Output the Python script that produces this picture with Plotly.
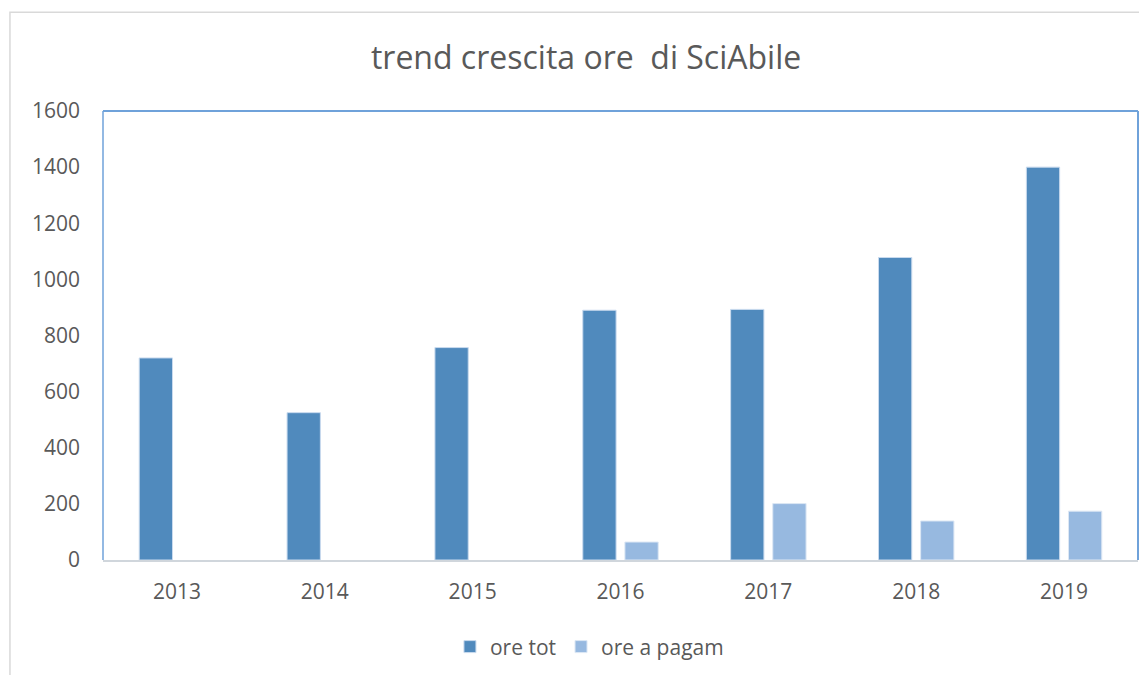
import plotly.graph_objects as go

years = ["2013", "2014", "2015", "2016", "2017", "2018", "2019"]
ore_tot = [720, 525, 757, 890, 893, 1078, 1400]
ore_pagam = [None, None, None, 64, 201, 139, 174]
y_ticks = [0, 200, 400, 600, 800, 1000, 1200, 1400, 1600]

FONT = "Open Sans"
TXT = "#595959"

fig = go.Figure()
fig.add_trace(go.Bar(x=years, y=ore_tot, name="ore tot",
                     marker=dict(color="#508ABD", line=dict(color="#C9DAEE", width=1))))
fig.add_trace(go.Bar(x=years, y=ore_pagam, name="ore a pagam",
                     marker=dict(color="#97B9E0", line=dict(color="#DCE7F4", width=1))))

fig.update_layout(
    width=1139, height=667,
    margin=dict(l=95, r=9, t=103, b=114),
    paper_bgcolor="white", plot_bgcolor="white",
    barmode="group", bargap=0.43, bargroupgap=0.21,
    title=dict(text="trend crescita ore \u00a0di SciAbile", x=0.5075, xanchor="center",
               y=0.925, yanchor="middle", font=dict(family=FONT, size=32, color=TXT)),
    font=dict(family=FONT, size=21, color=TXT),
    legend=dict(orientation="h", x=0.47, xanchor="center", y=-0.191, yanchor="middle",
                font=dict(size=21, color=TXT), itemwidth=30, traceorder="normal"),
    xaxis=dict(showgrid=False, showline=True, linecolor="#D0D6DC", linewidth=2,
               ticks="", ticklabelstandoff=12, tickfont=dict(size=21, color=TXT)),
    yaxis=dict(range=[0, 1600], tickvals=y_ticks, showgrid=False, showline=False,
               zeroline=False, ticks="", ticklabelstandoff=22,
               tickfont=dict(size=21, color=TXT)),
    shapes=[
        dict(type="line", xref="paper", yref="paper", x0=0, x1=0, y0=0, y1=1,
             line=dict(color="#6FA2DA", width=1.5)),
        dict(type="line", xref="paper", yref="paper", x0=0, x1=1, y0=1, y1=1,
             line=dict(color="#6FA2DA", width=2)),
        dict(type="line", xref="paper", yref="paper", x0=1, x1=1, y0=0, y1=1,
             line=dict(color="#6FA2DA", width=2)),
        dict(type="rect", xref="paper", yref="paper", x0=-0.0899, x1=1.2, y0=-0.5, y1=1.22,
             line=dict(color="#D9D9D9", width=1.5), layer="below"),
    ],
)

fig.write_html("out.html")
